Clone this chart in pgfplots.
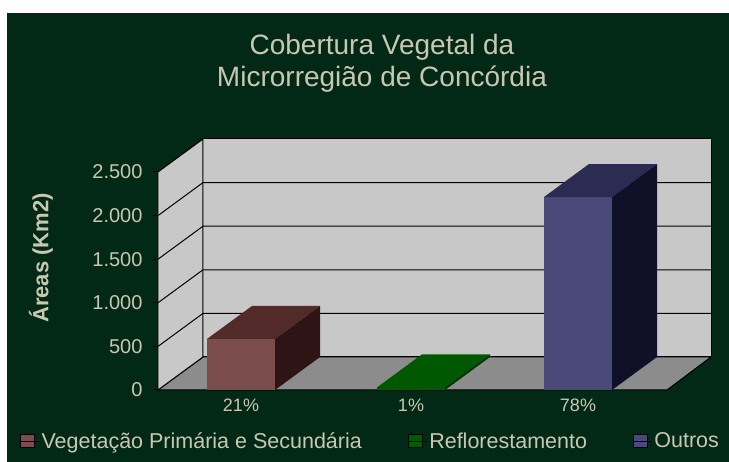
\documentclass[border=0pt]{standalone}
\usepackage{fontspec}
\setmainfont{Liberation Sans}
\usepackage{pgfplots}
\pgfplotsset{compat=1.18}
\definecolor{bg}{RGB}{2,41,22}
\definecolor{txt}{RGB}{200,200,178}
\definecolor{wall}{RGB}{200,200,200}
\definecolor{floorc}{RGB}{140,140,140}
\definecolor{aF}{RGB}{122,76,76}
\definecolor{aT}{RGB}{82,42,42}
\definecolor{aS}{RGB}{46,20,20}
\definecolor{bF}{RGB}{0,90,0}
\definecolor{bT}{RGB}{0,88,0}
\definecolor{bS}{RGB}{0,50,0}
\definecolor{cF}{RGB}{74,74,122}
\definecolor{cT}{RGB}{44,44,82}
\definecolor{cS}{RGB}{16,16,40}
\begin{document}
\begin{tikzpicture}[x=1pt,y=1pt]
\fill[white] (0,0) rectangle (729,462);
\fill[bg] (7,0) rectangle (729,449);
\begin{axis}[
  at={(158pt,72pt)}, anchor=south west,
  scale only axis, width=553pt, height=251pt,
  xmin=0, xmax=553, ymin=0, ymax=2878.4,
  axis line style={draw=none},
  clip=false,
  ytick={0,500,1000,1500,2000,2500},
  yticklabels={0,500,1.000,1.500,2.000,2.500},
  ytick pos=left, tick align=outside, major tick length=5pt,
  ytick style={black, line width=1pt},
  xtick={83,253,420}, xticklabels={21\%,1\%,78\%},
  xtick pos=bottom, xtick style={draw=none},
  tick label style={text=txt},
  yticklabel style={font=\fontsize{20}{24}\selectfont, xshift=-7pt},
  xticklabel style={font=\fontsize{18}{22}\selectfont},
  ylabel={Áreas (Km2)},
  ylabel style={at={(-0.2116,0.526)}, anchor=center, text=txt, font=\fontsize{22}{26}\selectfont\bfseries},
  title={Cobertura Vegetal da\\Microrregião de Concórdia},
  title style={at={(0.405,1.279)}, anchor=center, align=center, text=txt, font=\fontsize{28}{32}\selectfont},
  legend style={at={(-0.255,-0.2032)}, anchor=west, draw=none, fill=none, text=txt,
    font=\fontsize{21.5}{24}\selectfont, legend columns=3,
    /tikz/every even column/.append style={column sep=44pt}},
  legend cell align=left,
  legsq/.style={legend image code/.code={\fill[##1] (0pt,-6.5pt) rectangle (14pt,6.5pt); \path (0pt,0pt) -- (19pt,0pt);}},
]
% floor and walls
\addplot[fill=floorc, draw=black, line width=1pt, forget plot] coordinates {(0,0)(509,0)(553,378.4)(45,378.4)} -- cycle;
\addplot[fill=wall, draw=black, line width=1pt, forget plot] coordinates {(45,378.4)(553,378.4)(553,2878.4)(45,2878.4)} -- cycle;
\addplot[fill=wall, draw=black, line width=1pt, forget plot] coordinates {(0,0)(45,378.4)(45,2878.4)(0,2500)} -- cycle;
% grid lines on back wall and left wall
\addplot[black, line width=1pt, forget plot] coordinates {(0,500)(45,878.4)(553,878.4)};
\addplot[black, line width=1pt, forget plot] coordinates {(0,1000)(45,1378.4)(553,1378.4)};
\addplot[black, line width=1pt, forget plot] coordinates {(0,1500)(45,1878.4)(553,1878.4)};
\addplot[black, line width=1pt, forget plot] coordinates {(0,2000)(45,2378.4)(553,2378.4)};
% bar 1: 585
\addplot[fill=aF, draw=none, forget plot] coordinates {(49,0)(117,0)(117,585)(49,585)} -- cycle;
\addplot[fill=aT, draw=none, forget plot] coordinates {(49,585)(117,585)(162,963.4)(94,963.4)} -- cycle;
\addplot[fill=aS, draw=none, forget plot] coordinates {(117,0)(162,378.4)(162,963.4)(117,585)} -- cycle;
% bar 2: 30
\addplot[fill=bF, draw=none, forget plot] coordinates {(219,0)(287,0)(287,30)(219,30)} -- cycle;
\addplot[fill=bT, draw=none, forget plot] coordinates {(219,30)(287,30)(332,408.4)(264,408.4)} -- cycle;
\addplot[fill=bS, draw=none, forget plot] coordinates {(287,0)(332,378.4)(332,408.4)(287,30)} -- cycle;
% bar 3: 2213
\addplot[fill=cF, draw=none, forget plot] coordinates {(386,0)(454,0)(454,2213)(386,2213)} -- cycle;
\addplot[fill=cT, draw=none, forget plot] coordinates {(386,2213)(454,2213)(499,2591.4)(431,2591.4)} -- cycle;
\addplot[fill=cS, draw=none, forget plot] coordinates {(454,0)(499,378.4)(499,2591.4)(454,2213)} -- cycle;
% legend
\addlegendimage{legsq, fill=aF}
\addlegendentry{Vegetação Primária e Secundária}
\addlegendimage{legsq, fill=bF}
\addlegendentry{Reflorestamento}
\addlegendimage{legsq, fill=cF}
\addlegendentry{Outros}
\end{axis}
\pgfresetboundingbox
\path (0,0) rectangle (729,462);
\end{tikzpicture}
\end{document}
